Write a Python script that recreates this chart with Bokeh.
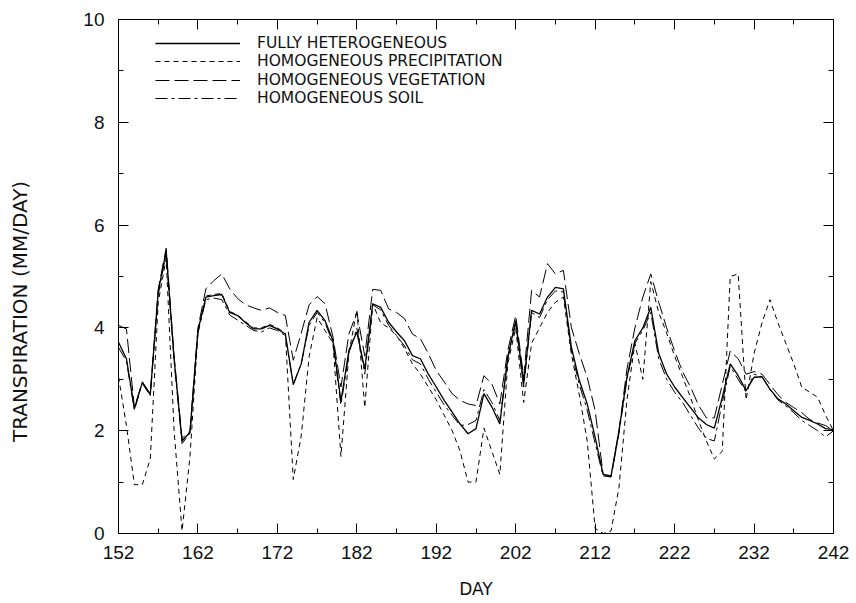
from bokeh.plotting import figure
from bokeh.models import (ColumnDataSource, FixedTicker, LinearAxis, Legend, LegendItem,
                          Range1d, CustomLabelingPolicy)
from bokeh.embed import file_html
from bokeh.resources import INLINE

days = list(range(152, 243))

full_het = [3.72, 3.40, 2.43, 2.94, 2.70, 4.70, 5.50, 3.40, 1.80, 1.97,
            3.95, 4.60, 4.63, 4.65, 4.30, 4.24, 4.10, 3.98, 3.98, 4.05,
            3.98, 3.88, 2.90, 3.30, 4.11, 4.34, 4.14, 3.75, 2.57, 3.56,
            3.92, 3.20, 4.47, 4.40, 4.11, 3.92, 3.75, 3.46, 3.40, 3.10,
            2.85, 2.59, 2.36, 2.13, 1.94, 2.04, 2.72, 2.46, 2.13, 3.43,
            4.14, 2.91, 4.34, 4.27, 4.60, 4.79, 4.76, 3.63, 2.98, 2.52,
            1.87, 1.15, 1.12, 2.00, 3.04, 3.75, 4.00, 4.40, 3.50, 3.10,
            2.85, 2.65, 2.45, 2.25, 2.12, 2.05, 2.65, 3.30, 3.07, 2.78,
            3.04, 3.05, 2.81, 2.62, 2.52, 2.39, 2.26, 2.20, 2.13, 2.04,
            2.02]

homo_precip = [3.05, 2.10, 0.95, 0.95, 1.45, 4.50, 5.35, 2.00, 0.05, 1.50,
               3.90, 4.62, 4.65, 4.67, 4.32, 4.25, 4.12, 4.00, 4.00, 4.07,
               4.00, 3.90, 1.05, 1.90, 3.45, 4.20, 3.95, 3.70, 1.50, 3.50,
               4.35, 2.45, 4.47, 4.10, 4.00, 3.85, 3.60, 3.30, 3.10, 2.85,
               2.60, 2.30, 2.00, 1.60, 1.00, 1.00, 2.05, 1.60, 1.15, 3.30,
               4.00, 2.55, 3.70, 4.00, 4.30, 4.50, 4.60, 3.50, 2.70, 1.80,
               0.10, 0.00, 0.05, 0.90, 2.60, 3.70, 3.00, 4.90, 4.30, 3.90,
               3.45, 3.05, 2.65, 2.20, 1.80, 1.45, 1.60, 5.00, 5.05, 2.60,
               3.50, 4.10, 4.55, 4.10, 3.70, 3.30, 2.85, 2.75, 2.65, 2.30,
               2.00]

homo_veg = [4.05, 3.98, 2.45, 2.95, 2.72, 4.75, 5.55, 3.45, 1.85, 2.00,
            4.00, 4.76, 4.92, 5.05, 4.76, 4.57, 4.45, 4.39, 4.34, 4.39,
            4.30, 4.24, 3.37, 3.90, 4.45, 4.61, 4.47, 3.82, 2.85, 3.88,
            4.30, 3.45, 4.75, 4.73, 4.37, 4.30, 4.18, 3.88, 3.79, 3.50,
            3.17, 2.95, 2.72, 2.59, 2.52, 2.49, 3.07, 2.91, 2.52, 3.56,
            4.24, 3.04, 4.73, 4.60, 5.25, 5.05, 5.12, 4.01, 3.50, 3.04,
            2.39, 1.15, 1.10, 2.00, 3.20, 4.00, 4.60, 5.05, 4.50, 4.00,
            3.55, 3.15, 2.85, 2.50, 2.25, 2.25, 2.90, 3.55, 3.40, 3.10,
            3.15, 3.10, 2.90, 2.70, 2.55, 2.45, 2.35, 2.22, 2.15, 2.10,
            2.00]

homo_soil = [3.62, 3.35, 2.40, 2.92, 2.68, 4.65, 5.45, 3.35, 1.75, 1.95,
             3.90, 4.55, 4.58, 4.55, 4.25, 4.15, 4.05, 3.95, 3.92, 4.00,
             3.95, 3.85, 2.90, 3.30, 4.05, 4.30, 4.10, 3.70, 2.50, 3.50,
             4.00, 3.10, 4.45, 4.35, 4.05, 3.85, 3.65, 3.38, 3.30, 3.00,
             2.75, 2.50, 2.30, 2.10, 2.12, 2.20, 2.80, 2.55, 2.20, 3.40,
             4.10, 2.85, 4.30, 4.20, 4.55, 4.72, 4.70, 3.55, 2.90, 2.40,
             1.75, 1.12, 1.10, 1.95, 3.00, 3.70, 3.95, 4.30, 3.40, 3.00,
             2.75, 2.55, 2.30, 2.05, 1.85, 1.80, 2.55, 3.25, 3.00, 2.75,
             3.10, 3.05, 2.80, 2.60, 2.48, 2.35, 2.20, 2.10, 2.00, 1.88,
             2.00]

series_names = ["FULLY HETEROGENEOUS", "HOMOGENEOUS PRECIPITATION",
                "HOMOGENEOUS VEGETATION", "HOMOGENEOUS SOIL"]
x_title = "DAY"
y_title = "TRANSPIRATION (MM/DAY)"

x_major = list(range(152, 243, 10))
x_minor = list(range(157, 243, 10))
y_major = [0, 2, 4, 6, 8, 10]
y_minor = [1, 3, 5, 7, 9]

src = ColumnDataSource(dict(day=days, full=full_het, precip=homo_precip,
                            veg=homo_veg, soil=homo_soil))

p = figure(width=856, height=603, x_range=Range1d(152, 242), y_range=Range1d(0, 10),
           output_backend="svg", toolbar_location=None,
           min_border_left=118, min_border_right=23, min_border_top=19,
           min_border_bottom=70, background_fill_color="white",
           border_fill_color="white")
p.grid.visible = False
p.outline_line_color = "black"
p.outline_line_width = 1

styles = [("full", "solid", 1.3), ("precip", "5 4", 1.0),
          ("veg", "14 5", 1.0), ("soil", "12 4 3 4", 1.0)]
renderers = []
for col, dash, lw in styles:
    r = p.line("day", col, source=src, line_color="black", line_width=lw,
               line_dash=dash)
    renderers.append(r)

tick_font = "Liberation Sans"
title_font = "DejaVu Sans"

no_labels = CustomLabelingPolicy(code="""
const all = Array.from(indices)
for (const i of all) { indices.unset(i) }
return indices
""")

def style_axis(ax, ticker, show_labels=True):
    ax.ticker = ticker
    ax.axis_line_color = "black"
    ax.major_tick_line_color = "black"
    ax.minor_tick_line_color = "black"
    ax.major_tick_in = 10
    ax.major_tick_out = 0
    ax.minor_tick_in = 5
    ax.minor_tick_out = 0
    ax.major_label_text_font = tick_font
    ax.major_label_text_color = "#111111"
    if show_labels:
        ax.major_label_text_font_size = "19px"
    else:
        ax.major_label_text_font_size = "1px"
        ax.major_label_standoff = 0
        ax.major_label_policy = no_labels

xt = FixedTicker(ticks=x_major, minor_ticks=x_minor)
yt = FixedTicker(ticks=y_major, minor_ticks=y_minor)

style_axis(p.xaxis[0], xt)
p.xaxis[0].major_label_standoff = 12
p.xaxis[0].axis_label = x_title
p.xaxis[0].axis_label_standoff = 17
p.xaxis[0].axis_label_text_font_size = "17px"

style_axis(p.yaxis[0], yt)
p.yaxis[0].major_label_standoff = 14
# trailing no-break spaces move the visible title below the frame centre, as in the reference
p.yaxis[0].axis_label = y_title + "\u00a0" * 11
p.yaxis[0].axis_label_standoff = 48
p.yaxis[0].axis_label_text_font_size = "20px"

for ax in (p.xaxis[0], p.yaxis[0]):
    ax.axis_label_text_font = title_font
    ax.axis_label_text_font_style = "normal"
    ax.axis_label_text_color = "#111111"

top_ax = LinearAxis()
style_axis(top_ax, FixedTicker(ticks=x_major, minor_ticks=x_minor), show_labels=False)
p.add_layout(top_ax, "above")
right_ax = LinearAxis()
style_axis(right_ax, FixedTicker(ticks=y_major, minor_ticks=y_minor), show_labels=False)
p.add_layout(right_ax, "right")

# one legend box per entry so the row pitch matches the reference
row_bottoms = [481, 463, 444, 426]
for name, r, yb in zip(series_names, renderers, row_bottoms):
    lg = Legend(items=[LegendItem(label=name, renderers=[r])],
                location=(37, yb), glyph_width=85, glyph_height=16, label_height=16,
                label_standoff=17, spacing=0, padding=0, margin=0,
                label_text_font=title_font, label_text_font_size="15.5px",
                label_text_color="#111111", border_line_alpha=0,
                background_fill_alpha=0)
    p.add_layout(lg, "center")

open("out.html", "w").write(file_html(p, INLINE))
